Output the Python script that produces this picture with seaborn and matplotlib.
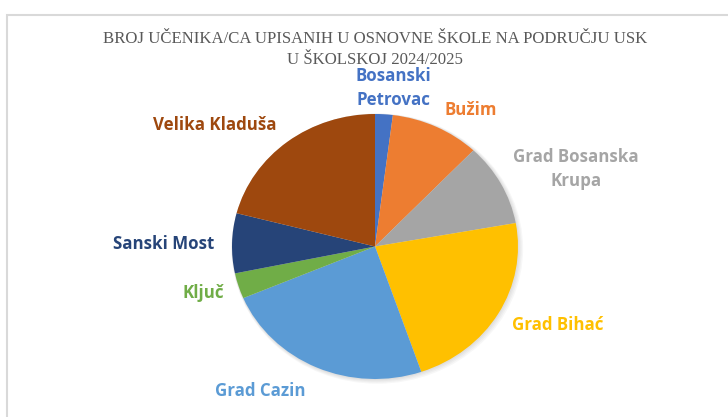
import matplotlib
matplotlib.use("Agg")
import matplotlib.pyplot as plt
import matplotlib.patches as mpatches
import seaborn as sns

# ---- data ----
municipalities = ["Bosanski\nPetrovac", "Bužim", "Grad Bosanska\nKrupa", "Grad Bihać",
                  "Grad Cazin", "Ključ", "Sanski Most", "Velika Kladuša"]
pupils = [430, 2170, 2170, 4860, 5140, 670, 1570, 4510]
title_lines = ["BROJ UČENIKA/CA UPISANIH U OSNOVNE ŠKOLE NA PODRUČJU USK",
               "U ŠKOLSKOJ 2024/2025"]

# ---- style ----
sns.set_theme(style="white")
palette = sns.color_palette(["#4472C4", "#ED7D31", "#A5A5A5", "#FFC000",
                             "#5B9BD5", "#70AD47", "#264478", "#9E480E"])
label_font = ["Open Sans", "DejaVu Sans"]
title_font = ["Liberation Serif", "DejaVu Serif"]

W, H = 728, 417
fig = plt.figure(figsize=(W / 100, H / 100), dpi=100)
fig.patch.set_facecolor("white")

# frame of chart area
fig.patches.append(mpatches.Rectangle((7 / W, -0.1), 1.2, 1 - 15 / H + 0.1,
                                      transform=fig.transFigure, fill=False,
                                      edgecolor="#D9D9D9", linewidth=1.5))

# pie geometry (pixels)
cx, cy, rx, ry = 375, 246.5, 143, 132.5
ax = fig.add_axes([0, 0, 1, 1])

# soft shadow behind the pie
for i in range(1, 5):
    ax.add_patch(mpatches.Ellipse((0.004 * i, -0.004 * i), 2 + 0.01 * i, 2 + 0.01 * i,
                                  facecolor="black", edgecolor="none",
                                  alpha=0.03, zorder=0))

ax.pie(pupils, colors=palette, startangle=90, counterclock=False,
       radius=1, wedgeprops=dict(linewidth=0, zorder=2))
ax.set_aspect("auto")
ax.set_xlim(-cx / rx, (W - cx) / rx)
ax.set_ylim(-(H - cy) / ry, cy / ry)
ax.axis("off")

# title
fig.text(375 / W, 1 - 39 / H, title_lines[0], ha="center", va="center",
         family=title_font, fontsize=12.1, color="#595959")
fig.text(375 / W, 1 - 59.5 / H, title_lines[1], ha="center", va="center",
         family=title_font, fontsize=12.1, color="#595959")

# data labels (pixel positions of label centres)
label_pos = [(393, 88), (471, 110), (576, 169), (558, 325),
             (260, 391), (203, 293), (164, 244), (215, 125)]
for name, (lx, ly), col in zip(municipalities, label_pos, palette):
    fig.text(lx / W, 1 - ly / H, name, ha="center", va="center",
             family=label_font, fontweight="bold", fontsize=12.2,
             color=col, linespacing=1.4)

fig.savefig("out.png", dpi=100)
